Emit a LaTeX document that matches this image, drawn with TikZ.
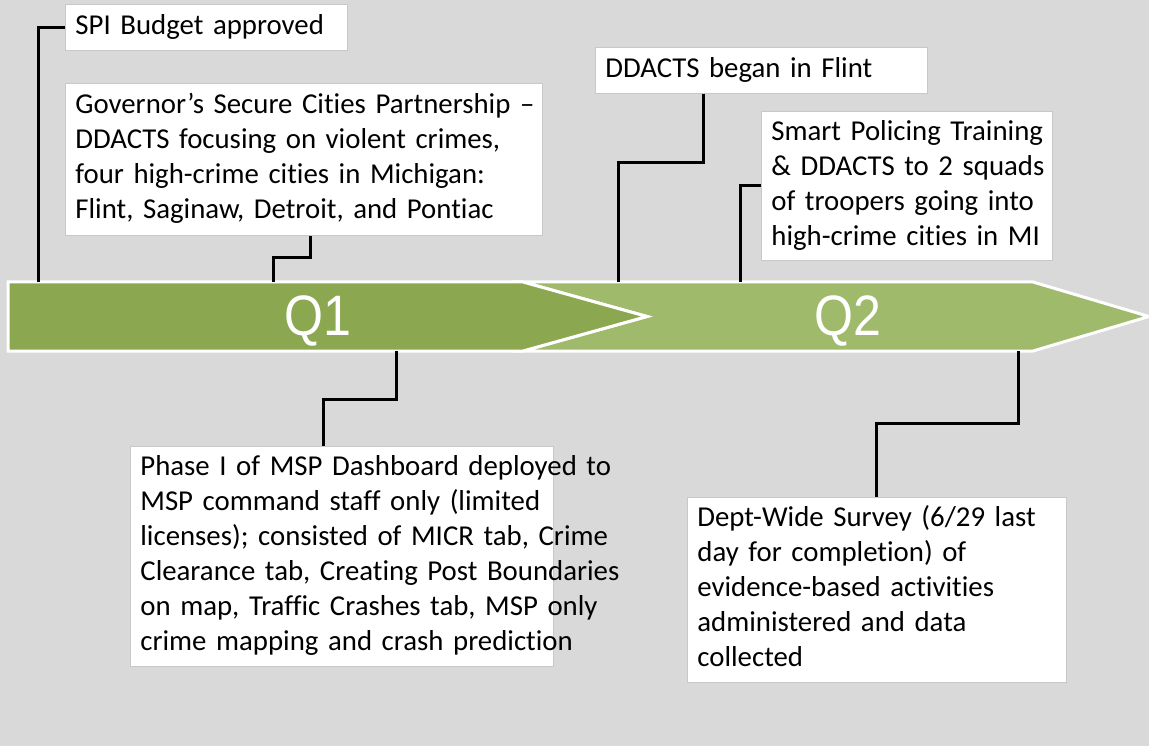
\documentclass[tikz,border=0pt]{standalone}
\usepackage{fontspec}
\usepackage{graphicx}
\setmainfont{Carlito}[Ligatures=CommonOff,RawFeature={-liga;-clig;-calt;-dlig}]
\newfontfamily\qfont{Liberation Sans}
\newcommand\oneline[1]{\mbox{\strut #1}}
\definecolor{bgc}{RGB}{217,217,217}
\definecolor{qone}{RGB}{139,167,79}
\definecolor{qtwo}{RGB}{158,186,106}
\definecolor{boxedge}{RGB}{200,200,200}
\tikzset{
  evbox/.style={anchor=north west, rectangle, fill=white, draw=boxedge, line width=0.8pt,
    inner xsep=10pt, inner ysep=0pt, align=left,
    font=\fontsize{28.8}{35}\selectfont, text=black},
  conn/.style={draw=black, line width=3pt},
  seg/.style={draw=white, line width=3pt, line join=miter},
  qlabel/.style={anchor=base, text=white, font=\qfont\fontsize{57}{60}\selectfont, inner sep=0pt}
}
\begin{document}
\begin{tikzpicture}[x=1pt,y=-1pt]
\useasboundingbox (0,0) rectangle (1149,746);
\fill[bgc] (0,0) rectangle (1149,746);
% timeline band
\path[seg, fill=qtwo] (523,282) -- (1033,282) -- (1149,316.5) -- (1033,351) -- (523,351) -- (647,316.5) -- cycle;
\path[seg, fill=qone] (8,282) -- (523,282) -- (647,316.5) -- (523,351) -- (8,351) -- cycle;
\node[qlabel] (q1) at (318,335) {\scalebox{0.88}[1]{Q1}};
\node[qlabel] (q2) at (848,335) {\scalebox{0.88}[1]{Q2}};
% event boxes
\node[evbox, minimum width=282pt, minimum height=46pt, text width=262pt] (spi) at (65,4)
  {\oneline{SPI Budget approved}};
\node[evbox, minimum width=477pt, minimum height=152pt, text width=457pt] (gov) at (65,83)
  {\oneline{Governor’s Secure Cities Partnership –}\\
   \oneline{DDACTS focusing on violent crimes,}\\
   \oneline{four high-crime cities in Michigan:}\\
   \oneline{Flint, Saginaw, Detroit, and Pontiac}};
\node[evbox, minimum width=332pt, minimum height=46pt, text width=312pt] (dd) at (595,47)
  {\oneline{DDACTS began in Flint}};
\node[evbox, minimum width=291pt, minimum height=149pt, text width=271pt] (smart) at (761,111)
  {\oneline{Smart Policing Training}\\
   \oneline{\& DDACTS to 2 squads}\\
   \oneline{of troopers going into}\\
   \oneline{high-crime cities in MI}};
\node[evbox, minimum width=423pt, minimum height=220pt, text width=403pt] (phase) at (130,446)
  {\oneline{Phase I of MSP Dashboard deployed to}\\
   \oneline{MSP command staff only (limited}\\
   \oneline{licenses); consisted of MICR tab, Crime}\\
   \oneline{Clearance tab, Creating Post Boundaries}\\
   \oneline{on map, Traffic Crashes tab, MSP only}\\
   \oneline{crime mapping and crash prediction}};
\node[evbox, minimum width=379pt, minimum height=185pt, text width=359pt] (dept) at (687,497)
  {\oneline{Dept-Wide Survey (6/29 last}\\
   \oneline{day for completion) of}\\
   \oneline{evidence-based activities}\\
   \oneline{administered and data}\\
   \oneline{collected}};
% connector anchor points on the band and bends
\coordinate (t1) at (38,282);
\coordinate (g1) at (310,258);
\coordinate (t2) at (273,282);
\coordinate (d1) at (703,163);
\coordinate (t3) at (618,282);
\coordinate (t4) at (740,282);
\coordinate (t5) at (396,351);
\coordinate (p1) at (396,399);
\coordinate (p2) at (323,399);
\coordinate (t6) at (1018,351);
\coordinate (r1) at (1018,423);
\coordinate (r2) at (876,423);
% connectors
\draw[conn] (spi.west) -| (t1);
\draw[conn] (gov.south -| g1) -- (g1) -| (t2);
\draw[conn] (dd.south -| d1) -- (d1) -| (t3);
\draw[conn] (smart.west) -| (t4);
\draw[conn] (t5) -- (p1) -| (phase.north -| p2);
\draw[conn] (t6) -- (r1) -| (dept.north -| r2);
\end{tikzpicture}
\end{document}
